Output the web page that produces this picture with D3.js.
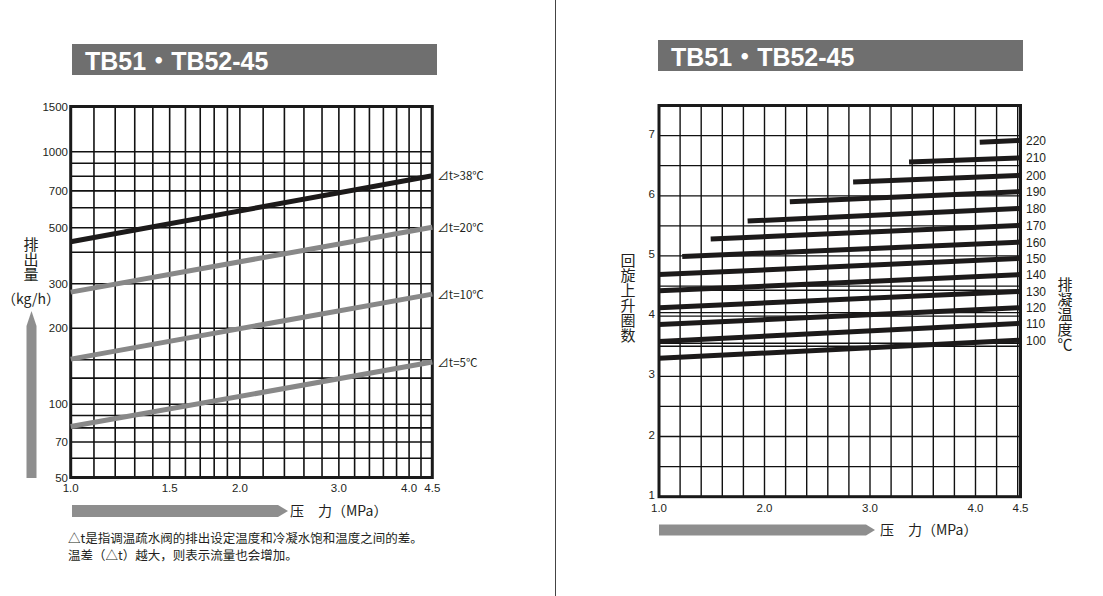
<!DOCTYPE html>
<html><head><meta charset="utf-8">
<script src="https://cdn.jsdelivr.net/npm/d3@7"></script>
<style>body{margin:0;background:#fff}svg{display:block}</style>
</head><body>
<svg id="c" width="1103" height="596"></svg>
<script>
// ---------- DATA ----------
const titleText = "TB51・TB52-45";
// left chart: discharge vs pressure
const flowXTicks = [1.0, 1.5, 2.0, 3.0, 4.0, 4.5];
const flowXGrid = [1.1,1.2,1.3,1.4,1.5,1.6,1.7,1.8,1.9,2.0,2.2,2.4,2.6,2.8,3.0,3.2,3.4,3.6,3.8,4.0,4.2];
const flowYTicks = [1500, 1000, 700, 500, 300, 200, 100, 70, 50];
const flowYGrid = [1000, 900, 800, 700, 600, 500, 400, 300, 200, 150, 127, 100, 90, 80, 70, 60];
const flowSeries = ["⊿t>38℃", "⊿t=20℃", "⊿t=10℃", "⊿t=5℃"];
const flowPressure = [1.0, 4.5];
const flowAtLow = [440, 278, 151, 81];    // kg/h at 1.0 MPa
const flowAtHigh = [803, 502, 273, 147];  // kg/h at 4.5 MPa
// right chart: turns vs pressure
const turnXTicks = [1.0, 2.0, 3.0, 4.0, 4.5];
const turnXGrid = [1.2,1.4,1.6,1.8,2.0,2.2,2.4,2.6,2.8,3.0,3.2,3.4,3.6,3.8,4.0,4.2,4.4];
const turnYTicks = [1, 2, 3, 4, 5, 6, 7];
const turnYGrid = [1.5, 2, 2.5, 3, 3.5, 3.55, 4, 4.06, 4.43, 4.5, 5, 5.5, 6, 6.5, 7];
const tempLabels = [100, 110, 120, 130, 140, 150, 160, 170, 180, 190, 200, 210, 220];
const turnStartP = [1.0, 1.0, 1.0, 1.0, 1.0, 1.0, 1.22, 1.49, 1.84, 2.24, 2.84, 3.37, 4.04];
const turnEndP   = [4.5, 4.5, 4.5, 4.5, 4.5, 4.5, 4.5, 4.5, 4.5, 4.5, 4.5, 4.5, 4.5];
const turnStart  = [3.30, 3.58, 3.86, 4.14, 4.42, 4.69, 4.99, 5.28, 5.58, 5.90, 6.23, 6.56, 6.89];
const turnEnd    = [3.60, 3.88, 4.14, 4.41, 4.69, 4.96, 5.23, 5.51, 5.79, 6.07, 6.34, 6.63, 6.92];
const noteLines = ["△t是指调温疏水阀的排出设定温度和冷凝水饱和温度之间的差。", "温差（△t）越大，则表示流量也会增加。"];

// ---------- DRAW ----------
const svg = d3.select("#c");
const FONT = "'Liberation Sans', Arial, 'Noto Sans CJK SC', sans-serif";
const CJK = "'Noto Sans CJK SC', 'Liberation Sans', sans-serif";
const TXT = "#231f20";

svg.append("line").attr("x1",555.5).attr("x2",555.5).attr("y1",0).attr("y2",596)
  .attr("stroke","#444").attr("stroke-width",1);

function titleBar(x, y) {
  svg.append("rect").attr("x",x).attr("y",y).attr("width",365).attr("height",31).attr("fill","#6f6f6f");
  svg.append("text").attr("x",x+13).attr("y",y+26).attr("fill","#fff")
    .attr("font-family",FONT).attr("font-weight","bold").attr("font-size",25).text(titleText);
}
function pencil(x0, y0, x1, y1, w, head, color) {
  if (y0 === y1) {
    svg.append("path").attr("d",`M${x0},${y0-w/2}H${x1-head}L${x1},${y0}L${x1-head},${y0+w/2}H${x0}Z`).attr("fill",color);
  } else {
    svg.append("path").attr("d",`M${x0-w/2},${y0}V${y1+head}L${x0},${y1}L${x0+w/2},${y1+head}V${y0}Z`).attr("fill",color);
  }
}
function vText(x, y, str, size) {
  svg.append("text").attr("x",x).attr("y",y)
    .style("writing-mode","vertical-rl")
    .attr("font-family",CJK).attr("font-size",size).attr("fill",TXT).text(str);
}

// ===== LEFT CHART =====
titleBar(72, 44);
const xL = d3.scaleLog().domain([1, 4.2, 4.5]).range([70.7, 421, 432.3]);
const yL = d3.scaleLog().domain([50, 100, 1000, 1500]).range([477.5, 404.3, 151.7, 106.5]);
const gL = svg.append("g");
gL.selectAll("line.vx").data(flowXGrid).join("line")
  .attr("x1",d=>xL(d)).attr("x2",d=>xL(d)).attr("y1",yL(1500)).attr("y2",yL(50))
  .attr("stroke","#111").attr("stroke-width",1.6);
gL.selectAll("line.hy").data(flowYGrid).join("line")
  .attr("x1",xL(1)).attr("x2",xL(4.5)).attr("y1",d=>yL(d)).attr("y2",d=>yL(d))
  .attr("stroke","#111").attr("stroke-width",1.6);
gL.append("rect").attr("x",xL(1)).attr("y",yL(1500)).attr("width",xL(4.5)-xL(1)).attr("height",yL(50)-yL(1500))
  .attr("fill","none").attr("stroke","#1a1a1a").attr("stroke-width",3);
const flowColors = ["#1c1a1a", "#888888", "#888888", "#888888"];
flowSeries.forEach((name,i)=>{
  const pts = [[flowPressure[0], flowAtLow[i]], [flowPressure[1], flowAtHigh[i]]];
  gL.append("path").attr("d", d3.line().x(d=>xL(d[0])).y(d=>yL(d[1]))(pts))
    .attr("stroke",flowColors[i]).attr("stroke-width",5).attr("fill","none");
  gL.append("text").attr("x",xL(4.5)+5).attr("y",yL(flowAtHigh[i])+4.5)
    .attr("font-family",CJK).attr("font-size",11.5).attr("fill",TXT).text(name);
});
gL.selectAll("text.yt").data(flowYTicks).join("text")
  .attr("x",68).attr("y",d=>yL(d)+4).attr("text-anchor","end")
  .attr("font-family",FONT).attr("font-size",11.5).attr("fill",TXT).text(d=>d);
gL.selectAll("text.xt").data(flowXTicks).join("text")
  .attr("x",d=>xL(d)).attr("y",492).attr("text-anchor","middle")
  .attr("font-family",FONT).attr("font-size",11.5).attr("fill",TXT).text(d=>d.toFixed(1));
vText(31, 237, "排出量", 15);
svg.append("text").attr("x",31).attr("y",304).attr("text-anchor","middle")
  .attr("font-family",CJK).attr("font-size",14).attr("fill",TXT).text("（kg/h）");
pencil(31.5, 478, 31.5, 311, 10, 15, "#8e8e8e");
pencil(72, 511, 288, 511, 12, 10, "#8e8e8e");
svg.append("text").attr("x",290).attr("y",516).attr("font-family",CJK).attr("font-size",14).attr("fill",TXT).text("压　力（MPa）");
noteLines.forEach((t,i)=>svg.append("text").attr("x",68).attr("y",543+i*17)
  .attr("font-family",CJK).attr("font-size",12.5).attr("fill",TXT).text(t));

// ===== RIGHT CHART =====
titleBar(658, 40);
const xR = d3.scaleLinear().domain([1, 4.4, 4.5]).range([659, 1017.7, 1020.5]);
const yR = d3.scaleLinear().domain([1, 7.5]).range([496.7, 105.5]);
const gR = svg.append("g");
gR.selectAll("line.vx").data(turnXGrid).join("line")
  .attr("x1",d=>xR(d)).attr("x2",d=>xR(d)).attr("y1",yR(7.5)).attr("y2",yR(1))
  .attr("stroke","#111").attr("stroke-width",1.4);
gR.selectAll("line.hy").data(turnYGrid).join("line")
  .attr("x1",xR(1)).attr("x2",xR(4.5)).attr("y1",d=>yR(d)).attr("y2",d=>yR(d))
  .attr("stroke","#111").attr("stroke-width",1.3);
gR.append("rect").attr("x",xR(1)).attr("y",yR(7.5)).attr("width",xR(4.5)-xR(1)).attr("height",yR(1)-yR(7.5))
  .attr("fill","none").attr("stroke","#1a1a1a").attr("stroke-width",3);
tempLabels.forEach((t,i)=>{
  const pts = [[turnStartP[i], turnStart[i]], [turnEndP[i], turnEnd[i]]];
  gR.append("path").attr("d", d3.line().x(d=>xR(d[0])).y(d=>yR(d[1]))(pts))
    .attr("stroke","#1c1a1a").attr("stroke-width",5).attr("fill","none");
  gR.append("text").attr("x",1026).attr("y",yR(turnEnd[i])+4.5)
    .attr("font-family",FONT).attr("font-size",12).attr("fill",TXT).text(t);
});
gR.selectAll("text.yt").data(turnYTicks).join("text")
  .attr("x",655).attr("y",d=>yR(d)+2).attr("text-anchor","end")
  .attr("font-family",FONT).attr("font-size",11.5).attr("fill",TXT).text(d=>d);
gR.selectAll("text.xt").data(turnXTicks).join("text")
  .attr("x",d=>xR(d)).attr("y",512).attr("text-anchor","middle")
  .attr("font-family",FONT).attr("font-size",11.5).attr("fill",TXT).text(d=>d.toFixed(1));
vText(628, 253, "回旋上升圈数", 15);
vText(1065, 277, "排凝温度℃", 15);
pencil(659, 530, 875, 530, 11, 9, "#8e8e8e");
svg.append("text").attr("x",880).attr("y",535).attr("font-family",CJK).attr("font-size",14).attr("fill",TXT).text("压　力（MPa）");
</script>
</body></html>
